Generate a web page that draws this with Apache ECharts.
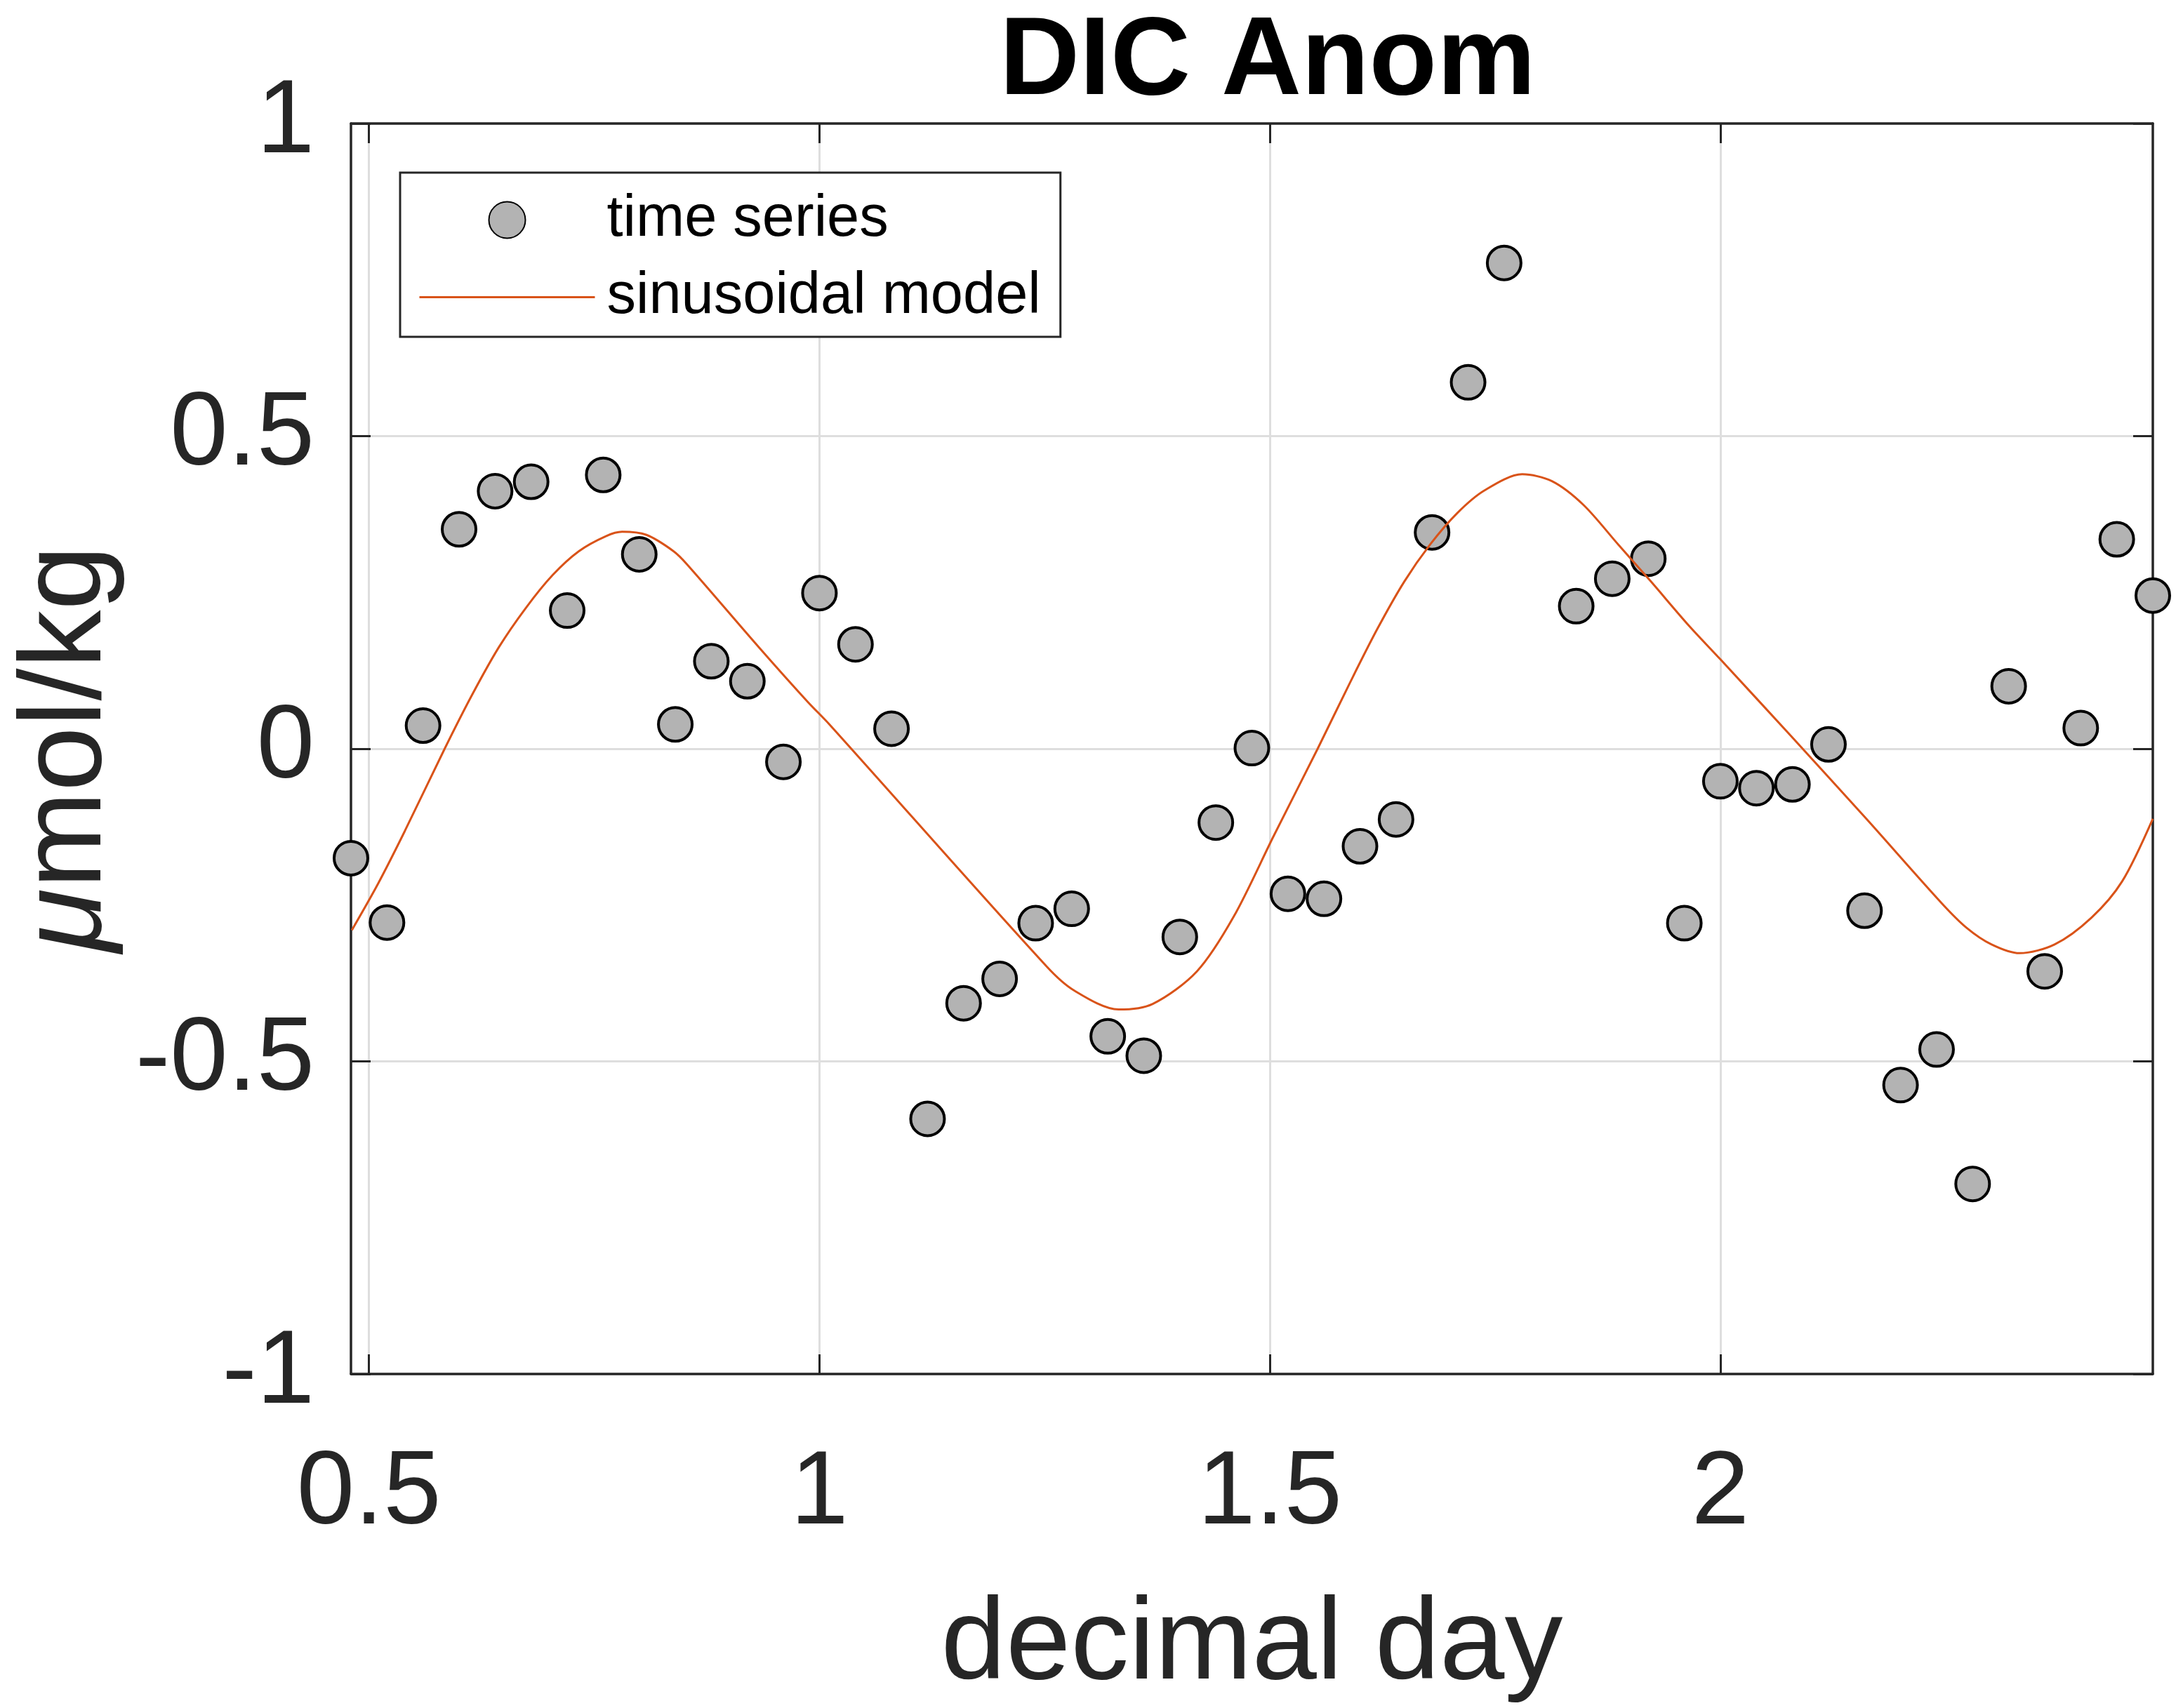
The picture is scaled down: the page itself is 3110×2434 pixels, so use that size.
<!DOCTYPE html>
<html>
<head>
<meta charset="utf-8">
<script src="https://cdn.jsdelivr.net/npm/echarts@6/dist/echarts.min.js"></script>
<style>
  html, body { margin: 0; padding: 0; background: #fff; }
  #chart { width: 3110px; height: 2434px; }
</style>
</head>
<body>
<div id="chart"></div>
<script>
// observed DIC anomaly (one sample at 1.80 is missing in the record)
const seriesDay = [
  0.48, 0.52, 0.56, 0.60, 0.64, 0.68, 0.72, 0.76, 0.80, 0.84,
  0.88, 0.92, 0.96, 1.00, 1.04, 1.08, 1.12, 1.16, 1.20, 1.24,
  1.28, 1.32, 1.36, 1.40, 1.44, 1.48, 1.52, 1.56, 1.60, 1.64,
  1.68, 1.72, 1.76, 1.84, 1.88, 1.92, 1.96, 2.00, 2.04, 2.08,
  2.12, 2.16, 2.20, 2.24, 2.28, 2.32, 2.36, 2.40, 2.44, 2.48
];
const seriesAnom = [
  -0.175, -0.278, 0.037, 0.351, 0.412, 0.427, 0.221, 0.438, 0.311, 0.039,
  0.140, 0.108, -0.021, 0.249, 0.167, 0.032, -0.592, -0.407, -0.368, -0.279,
  -0.256, -0.460, -0.491, -0.301, -0.118, 0.001, -0.232, -0.240, -0.156, -0.113,
  0.346, 0.586, 0.777, 0.228, 0.272, 0.304, -0.279, -0.052, -0.063, -0.057,
  0.007, -0.259, -0.538, -0.481, -0.696, 0.100, -0.356, 0.033, 0.335, 0.245
];

// fitted sinusoidal model
const modelDay = [
  0.481, 0.510, 0.540, 0.584, 0.614, 0.644, 0.674, 0.704, 0.733, 0.763,
  0.781, 0.808, 0.838, 0.853, 0.933, 0.987, 1.011, 1.252, 1.283, 1.332,
  1.370, 1.419, 1.460, 1.504, 1.553, 1.589, 1.619, 1.649, 1.678,
  1.708, 1.738, 1.780, 1.813, 1.848, 1.887, 1.922, 1.965, 2.000, 2.078,
  2.162, 2.245, 2.273, 2.301, 2.332, 2.371, 2.412, 2.446, 2.480
];
const modelAnom = [
  -0.290, -0.216, -0.131, 0.000, 0.085, 0.162, 0.225, 0.278, 0.316, 0.340,
  0.347, 0.342, 0.316, 0.295, 0.162, 0.075, 0.039, -0.348, -0.387, -0.417,
  -0.408, -0.356, -0.268, -0.140, 0.000, 0.106, 0.191, 0.267, 0.327,
  0.377, 0.413, 0.439, 0.428, 0.390, 0.326, 0.269, 0.197, 0.143, 0.021,
  -0.112, -0.246, -0.286, -0.313, -0.327, -0.313, -0.270, -0.212, -0.112
];

const xTicks = [0.5, 1, 1.5, 2];
const yTicks = [-1, -0.5, 0, 0.5, 1];

const FONT = '"Liberation Sans", Arial, Helvetica, sans-serif';
const AX = '#262626';

const chart = echarts.init(document.getElementById('chart'), null, { renderer: 'canvas' });

const tickStyle = { show: true, inside: true, length: 28, lineStyle: { color: AX, width: 3 } };
const frameLine = { show: true, onZero: false, lineStyle: { color: AX, width: 3.5 } };

chart.setOption({
  backgroundColor: '#fff',
  animation: false,
  title: {
    text: 'DIC Anom',
    left: 1419,
    top: 6,
    textStyle: { fontSize: 158, fontWeight: 'bold', color: '#000', fontFamily: FONT }
  },
  legend: {
    orient: 'vertical',
    left: 570,
    top: 246,
    padding: [26, 28, 15, 26],
    itemWidth: 250,
    itemHeight: 52,
    itemGap: 27,
    borderColor: AX,
    borderWidth: 3,
    backgroundColor: '#fff',
    data: [
      { name: 'time series', icon: 'circle' },
      { name: 'sinusoidal model', itemStyle: { opacity: 0 }, lineStyle: { width: 3, color: '#d95319' } }
    ],
    textStyle: { fontSize: 83, color: '#000', fontFamily: FONT, padding: [0, 0, 0, 12] }
  },
  grid: { left: 500, right: 43, top: 176, bottom: 454, containLabel: false },
  xAxis: [{
    type: 'value',
    min: 0.48,
    max: 2.48,
    name: 'decimal day',
    nameLocation: 'middle',
    nameGap: 305,
    nameTextStyle: { fontSize: 166, color: AX, fontFamily: FONT },
    axisLine: frameLine,
    axisTick: Object.assign({ customValues: xTicks }, tickStyle),
    axisLabel: { customValues: xTicks, margin: 98, fontSize: 148, color: AX, fontFamily: FONT },
    splitLine: { show: true, lineStyle: { color: '#dedede', width: 3 } }
  }, {
    type: 'value',
    position: 'top',
    min: 0.48,
    max: 2.48,
    axisLine: frameLine,
    axisTick: Object.assign({ customValues: xTicks }, tickStyle),
    axisLabel: { show: false, customValues: xTicks },
    splitLine: { show: false }
  }],
  yAxis: [{
    type: 'value',
    min: yTicks[0],
    max: yTicks[yTicks.length - 1],
    interval: 0.5,
    name: '{mu|μ}mol/kg',
    nameLocation: 'middle',
    nameGap: 320,
    nameTextStyle: {
      fontSize: 166, color: AX, fontFamily: FONT,
      rich: { mu: { fontSize: 166, fontStyle: 'italic', color: AX, fontFamily: FONT } }
    },
    axisLine: frameLine,
    axisTick: tickStyle,
    axisLabel: { margin: 52, fontSize: 148, color: AX, fontFamily: FONT },
    splitLine: { show: true, lineStyle: { color: '#dedede', width: 3 } }
  }, {
    type: 'value',
    position: 'right',
    min: yTicks[0],
    max: yTicks[yTicks.length - 1],
    interval: 0.5,
    axisLine: frameLine,
    axisTick: tickStyle,
    axisLabel: { show: false },
    splitLine: { show: false }
  }],
  series: [{
    name: 'time series',
    type: 'scatter',
    clip: false,
    symbol: 'circle',
    symbolSize: 48,
    itemStyle: { color: '#b3b3b3', borderColor: '#000', borderWidth: 4, opacity: 1 },
    data: seriesDay.map((d, i) => [d, seriesAnom[i]]),
    z: 3
  }, {
    name: 'sinusoidal model',
    type: 'line',
    symbol: 'none',
    smooth: 0.3,
    lineStyle: { color: '#d95319', width: 3 },
    itemStyle: { color: '#d95319' },
    data: modelDay.map((d, i) => [d, modelAnom[i]]),
    z: 4
  }]
});
</script>
</body>
</html>
